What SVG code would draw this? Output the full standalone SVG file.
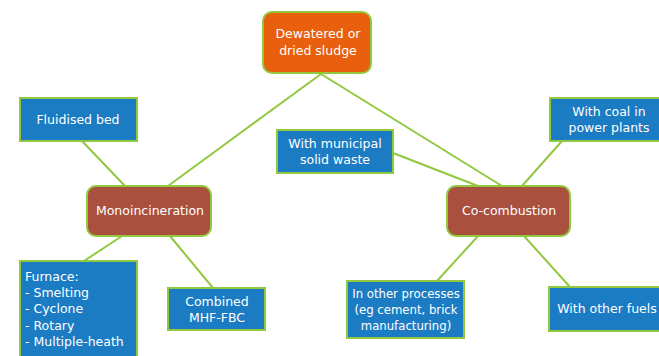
<svg xmlns="http://www.w3.org/2000/svg" width="659" height="356" viewBox="0 0 659 356">
<style>
.box{fill:#1b7cc4;stroke:#92c83e;stroke-width:2}
.main{fill:#a9503f;stroke:#92c83e;stroke-width:2}
.top{fill:#e8600e;stroke:#92c83e;stroke-width:2}
.t{fill:#fff;font-family:"DejaVu Sans",Verdana,sans-serif;font-size:12.5px;text-anchor:middle}
.tl{fill:#fff;font-family:"DejaVu Sans",Verdana,sans-serif;font-size:12.5px}
.s{font-size:11.7px}
.c line{stroke:#92c83e;stroke-width:2}
</style>
<rect width="659" height="356" fill="#fff"/>
<g class="c" id="connectors">
<line x1="321" y1="74" x2="168" y2="186"/>
<line x1="321" y1="74" x2="502" y2="186"/>
<line x1="82" y1="141" x2="125" y2="186"/>
<line x1="122" y1="236" x2="84" y2="261"/>
<line x1="170" y1="236" x2="213" y2="288"/>
<line x1="393" y1="153" x2="478" y2="186"/>
<line x1="562" y1="141" x2="522" y2="186"/>
<line x1="478" y1="236" x2="437" y2="281"/>
<line x1="524" y1="236" x2="570" y2="287"/>
</g>
<g id="n-top"><rect class="top" x="263" y="12" width="108" height="61" rx="9"/>
<text class="t" x="318" y="38">Dewatered or</text><text class="t" x="318" y="55">dried sludge</text></g>
<g id="n-fluid"><rect class="box" x="20" y="98" width="117" height="43"/>
<text class="t" x="78" y="124">Fluidised bed</text></g>
<g id="n-coal"><rect class="box" x="550" y="98" width="112" height="43"/>
<text class="t" x="609" y="116">With coal in</text><text class="t" x="609" y="132">power plants</text></g>
<g id="n-msw"><rect class="box" x="277" y="130" width="116" height="43"/>
<text class="t" x="335" y="148">With municipal</text><text class="t" x="335" y="164">solid waste</text></g>
<g id="n-mono"><rect class="main" x="87" y="186" width="124" height="50" rx="9"/>
<text class="t" x="150" y="215">Monoincineration</text></g>
<g id="n-co"><rect class="main" x="447" y="186" width="123" height="50" rx="9"/>
<text class="t" x="509" y="215">Co-combustion</text></g>
<g id="n-furnace"><rect class="box" x="20" y="261" width="117" height="100"/>
<text class="tl" x="25" y="281">Furnace:</text>
<text class="tl" x="25" y="297">- Smelting</text>
<text class="tl" x="25" y="313">- Cyclone</text>
<text class="tl" x="25" y="330">- Rotary</text>
<text class="tl" x="25" y="346">- Multiple-heath</text></g>
<g id="n-comb"><rect class="box" x="168" y="288" width="97" height="42"/>
<text class="t" x="217" y="306">Combined</text><text class="t" x="217" y="322">MHF-FBC</text></g>
<g id="n-other"><rect class="box" x="347" y="281" width="117" height="57"/>
<text class="t s" x="406" y="298">In other processes</text><text class="t s" x="406" y="314">(eg cement, brick</text><text class="t s" x="406" y="330">manufacturing)</text></g>
<g id="n-fuels"><rect class="box" x="549" y="287" width="113" height="44"/>
<text class="t" x="607" y="313">With other fuels</text></g>
</svg>
